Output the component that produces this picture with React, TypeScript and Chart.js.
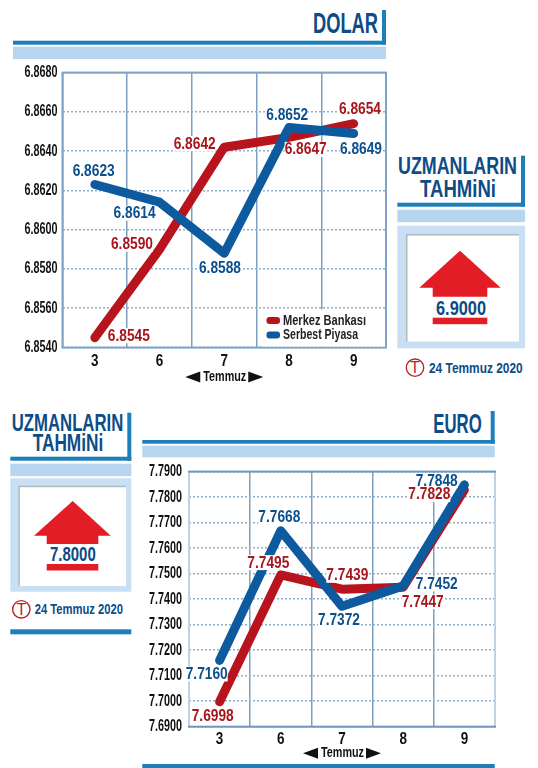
import React, { useEffect, useRef } from "react";
import { Chart, registerables } from "chart.js";

Chart.register(...registerables);

const days = ["3", "6", "7", "8", "9"];
const axisName = "Temmuz";
const seriesNames = ["Merkez Bankası", "Serbest Piyasa"];

const dolarMerkez = [6.8545, 6.859, 6.8642, 6.8647, 6.8654];
const dolarSerbest = [6.8623, 6.8614, 6.8588, 6.8652, 6.8649];
const euroMerkez = [7.6998, 7.7495, 7.7439, 7.7447, 7.7828];
const euroSerbest = [7.716, 7.7668, 7.7372, 7.7452, 7.7848];

const RED = "#b8141d";
const BLUE = "#0e5a9e";
const RED_TEXT = "#a8151d";
const BLUE_TEXT = "#0c4f8d";
const NAVY = "#0d4c88";
const BAR = "#1c7fb9";
const PALE = "#b7d5ef";
const FONT = '"Liberation Sans", sans-serif';

const dolarOffsets = [
  [[34, -2], [-27.6, -5], [-29.6, -3.6], [16.7, 12], [6.3, -15]],
  [[-1.2, -13.7], [-25, 11], [-4.3, 14.6], [-1.7, -12.8], [7.3, 15.3]],
];
const euroOffsets = [
  [[-6.9, 14.5], [-12.5, -12.3], [5.3, -13.9], [19.5, 14.5], [-35.1, 4.6]],
  [[-12.9, 13.6], [-1.5, -13.3], [-3, 13.7], [33.5, -1.9], [-27.7, -4.2]],
];

const valueLabels = (offsets: number[][][]) => ({
  id: "valueLabels",
  afterDatasetsDraw(chart: any) {
    const ctx = chart.ctx;
    ctx.save();
    ctx.font = `bold 16px ${FONT}`;
    ctx.textAlign = "center";
    ctx.textBaseline = "middle";
    const items: any[] = [];
    chart.data.datasets.forEach((ds: any, s: number) => {
      chart.getDatasetMeta(s).data.forEach((pt: any, i: number) => {
        items.push({
          x: pt.x + offsets[s][i][0],
          y: pt.y + offsets[s][i][1],
          t: ds.data[i].toFixed(4),
          c: s === 0 ? RED_TEXT : BLUE_TEXT,
        });
      });
    });
    ctx.fillStyle = "#fff";
    items.forEach((it) => ctx.fillRect(it.x - 21, it.y - 7.5, 42, 15));
    items.forEach((it) => {
      ctx.fillStyle = it.c;
      ctx.fillText(it.t, it.x, it.y + 0.5, 42);
    });
    ctx.restore();
  },
});

const frame = (top: string, side: string) => ({
  id: "frame",
  afterDatasetsDraw(chart: any) {
    const { left, right, top: t, bottom } = chart.chartArea;
    const ctx = chart.ctx;
    ctx.save();
    ctx.fillStyle = side;
    ctx.fillRect(left - 1, t, 2, bottom - t);
    ctx.fillRect(right - 1, t, 2, bottom - t);
    ctx.fillStyle = top;
    ctx.fillRect(left - 1, t - 1, right - left + 2, 2);
    ctx.fillRect(left - 1, bottom - 1, right - left + 2, 2);
    ctx.restore();
  },
});

const boxLegend = {
  id: "boxLegend",
  afterDatasetsDraw(chart: any) {
    const { right, bottom } = chart.chartArea;
    const ctx = chart.ctx;
    const x0 = right - 120;
    const y0 = bottom - 38;
    ctx.save();
    ctx.fillStyle = "#fff";
    ctx.fillRect(x0 - 3, y0, 122, 37);
    ctx.textBaseline = "middle";
    ctx.textAlign = "left";
    ctx.font = `bold 15.5px ${FONT}`;
    chart.data.datasets.forEach((ds: any, i: number) => {
      const y = y0 + 11 + i * 14.5;
      ctx.fillStyle = ds.borderColor;
      ctx.beginPath();
      ctx.roundRect(x0 + 0.5, y - 3.5, 13.5, 7, 3);
      ctx.fill();
      ctx.fillStyle = "#222";
      ctx.fillText(ds.label, x0 + 17, y, i === 0 ? 83 : 75);
    });
    ctx.restore();
  },
};

const axisCaption = (gap: number) => ({
  id: "axisCaption",
  afterDraw(chart: any) {
    const { left, right, bottom } = chart.chartArea;
    const cx = (left + right) / 2;
    const cy = bottom + gap;
    const ctx = chart.ctx;
    ctx.save();
    ctx.fillStyle = "#111";
    ctx.font = `bold 15px ${FONT}`;
    ctx.textAlign = "center";
    ctx.textBaseline = "middle";
    ctx.fillText(axisName, cx + 0.5, cy, 43);
    [-1, 1].forEach((d) => {
      ctx.beginPath();
      ctx.moveTo(cx + d * 39, cy);
      ctx.lineTo(cx + d * 24, cy - 5.5);
      ctx.lineTo(cx + d * 24, cy + 5.5);
      ctx.closePath();
      ctx.fill();
    });
    ctx.restore();
  },
});

const squeezeLabels = (s: any, maxWidth: number) => {
  if (s.__squeezed) return;
  s.__squeezed = true;
  const orig = s.getLabelItems.bind(s);
  s.getLabelItems = (area: any) => {
    const items = orig(area);
    items.forEach((it: any) => {
      it.options.maxWidth = maxWidth;
    });
    return items;
  };
};

function buildChart(
  canvas: HTMLCanvasElement,
  a: number[],
  b: number[],
  min: number,
  max: number,
  step: number,
  axisW: number,
  axisH: number,
  padTop: number,
  padRight: number,
  tickPad: number,
  xPad: number,
  plugins: any[]
) {
  return new Chart(canvas, {
    type: "line",
    data: {
      labels: days,
      datasets: [
        { label: seriesNames[0], data: a, borderColor: RED, order: 1 },
        { label: seriesNames[1], data: b, borderColor: BLUE, order: 0 },
      ].map((d) => ({
        ...d,
        borderWidth: 9,
        borderCapStyle: "round",
        borderJoinStyle: "round",
        pointRadius: 0,
        tension: 0,
        fill: false,
      })) as any,
    },
    options: {
      animation: false,
      responsive: false,
      layout: { padding: { top: padTop, right: padRight, left: 0, bottom: 0 } },
      plugins: { legend: { display: false }, tooltip: { enabled: false } },
      scales: {
        x: {
          offset: true,
          grid: { color: "#7fa0bf", lineWidth: 1.5, drawTicks: false, offset: true },
          border: { display: false },
          ticks: { font: { family: FONT, size: 16, weight: "bold" }, color: "#111", padding: xPad },
          afterFit(s: any) {
            s.height = axisH;
            squeezeLabels(s, 7.5);
          },
        },
        y: {
          min,
          max,
          grid: { color: "#8eaecb", lineWidth: 1.5, drawTicks: false },
          border: { display: false, dash: [2, 2] },
          ticks: {
            stepSize: step,
            font: { family: FONT, size: 16, weight: "bold" },
            color: "#111",
            padding: tickPad,
            callback: (v: any) => Number(v).toFixed(4),
          },
          afterFit(s: any) {
            s.width = axisW;
            squeezeLabels(s, 33);
          },
        },
      },
    } as any,
    plugins,
  });
}

const txt = (
  t: string,
  x1: number,
  x2: number,
  base: number,
  size: number,
  fill = NAVY,
  family = FONT
) => (
  <text
    x={x1}
    y={base}
    textLength={x2 - x1}
    lengthAdjust="spacingAndGlyphs"
    fontFamily={family}
    fontWeight="bold"
    fontSize={size}
    fill={fill}
  >
    {t}
  </text>
);

const rect = (x1: number, y1: number, x2: number, y2: number, fill: string) => (
  <rect x={x1} y={y1} width={x2 - x1} height={y2 - y1} fill={fill} />
);

function Forecast(p: any) {
  return (
    <g>
      {txt("UZMANLARIN", p.ux1, p.ux2, p.uy, 24)}
      {txt("TAHMiNi", p.tx1, p.tx2, p.ty, 24)}
      {rect(p.r - 4, p.barTop, p.r, p.barY + 4, BAR)}
      {rect(p.l, p.barY, p.r, p.barY + 4, BAR)}
      {rect(p.l, p.barY + 7, p.r, p.barY + 19.5, PALE)}
      {rect(p.l, p.boxY, p.r, p.boxB, "#c9dff3")}
      {rect(p.il, p.iy, p.ir, p.ib, "#aeb9c2")}
      {rect(p.il + 1.5, p.iy + 1.5, p.ir, p.ib, "#fff")}
      <polygon
        points={`${p.ax},${p.ay} ${p.a2},${p.aby} ${p.s2},${p.aby} ${p.s2},${p.sb} ${p.s1},${p.sb} ${p.s1},${p.aby} ${p.a1},${p.aby}`}
        fill="#e21d25"
      />
      {txt(p.value, p.v1, p.v2, p.vy, 21, "#0c4a86")}
      {rect(p.s1, p.ry, p.s2, p.ry + 6.5, "#e21d25")}
      <circle cx={p.cx} cy={p.cy} r={8.7} fill="#fff" stroke="#b8242c" strokeWidth={1.4} />
      <text x={p.cx} y={p.cy + 5.5} textAnchor="middle" fontFamily="Liberation Sans" fontSize={16} fill="#b8242c">
        T
      </text>
      {txt("24 Temmuz 2020", p.d1, p.d2, p.dy, 14.5)}
    </g>
  );
}

export default function App() {
  const dolarRef = useRef<HTMLCanvasElement>(null);
  const euroRef = useRef<HTMLCanvasElement>(null);

  useEffect(() => {
    const c1 = buildChart(dolarRef.current!, dolarMerkez, dolarSerbest, 6.854, 6.868, 0.002, 62.5, 36.5, 12, 14, 5, 4.5, [
      frame("#7ea3c6", "#7ea3c6"),
      valueLabels(dolarOffsets),
      boxLegend,
      axisCaption(29.5),
    ]);
    const c2 = buildChart(euroRef.current!, euroMerkez, euroSerbest, 7.69, 7.79, 0.01, 49, 35.3, 11.7, 43, 7, 3, [
      frame("#6f97bd", "#bcd3e7"),
      valueLabels(euroOffsets),
      axisCaption(26.6),
    ]);
    return () => {
      c1.destroy();
      c2.destroy();
    };
  }, []);

  return (
    <div style={{ position: "fixed", left: 0, top: 0, width: 538, height: 768, background: "#fff", overflow: "hidden" }}>
      <svg width={538} height={768} style={{ position: "absolute", left: 0, top: 0 }}>
        {txt("DOLAR", 313, 378, 33.3, 30)}
        {rect(382, 10, 386, 44.7, BAR)}
        {rect(13, 40.7, 386, 44.7, BAR)}
        {rect(13, 46.7, 386, 59, PALE)}

        {txt("EURO", 433.3, 481.7, 433.3, 28)}
        {rect(490.7, 411, 494.7, 443.7, BAR)}
        {rect(142.3, 440, 494.7, 443.7, BAR)}
        {rect(142.3, 445.7, 494.7, 457.3, PALE)}
        {rect(142.3, 764, 494.7, 768, BAR)}
        {rect(10.3, 629.3, 131.3, 634.3, BAR)}

        <Forecast
          ux1={398} ux2={517} uy={174} tx1={420} tx2={496} ty={197}
          l={397.3} r={525} barTop={155.7} barY={202.7} boxY={225.7} boxB={348.3}
          il={406} ir={519} iy={234} ib={341.7}
          ax={460} ay={250.7} a1={419.3} a2={500.7} aby={287.7} s1={432.7} s2={487.3} sb={296.7}
          value="6.9000" v1={436} v2={486} vy={315} ry={317.7}
          cx={415} cy={367.7} d1={429} d2={522.7} dy={372.7}
        />
        <Forecast
          ux1={11.7} ux2={123.3} uy={431} tx1={32.7} tx2={103.3} ty={450.7}
          l={10.3} r={131.3} barTop={412.7} barY={456.7} boxY={478.3} boxB={591.7}
          il={18.3} ir={126} iy={485.7} ib={586}
          ax={72.7} ay={501} a1={34} a2={110.7} aby={535.7} s1={46.7} s2={98.3} sb={544}
          value="7.8000" v1={50} v2={95.7} vy={561} ry={564}
          cx={21.3} cy={609.3} d1={34.7} d2={123} dy={614}
        />
      </svg>
      <canvas ref={dolarRef} width={400} height={326} style={{ position: "absolute", left: 0, top: 58, width: 400, height: 326 }} />
      <canvas ref={euroRef} width={398} height={307} style={{ position: "absolute", left: 140, top: 455, width: 398, height: 307 }} />
    </div>
  );
}
